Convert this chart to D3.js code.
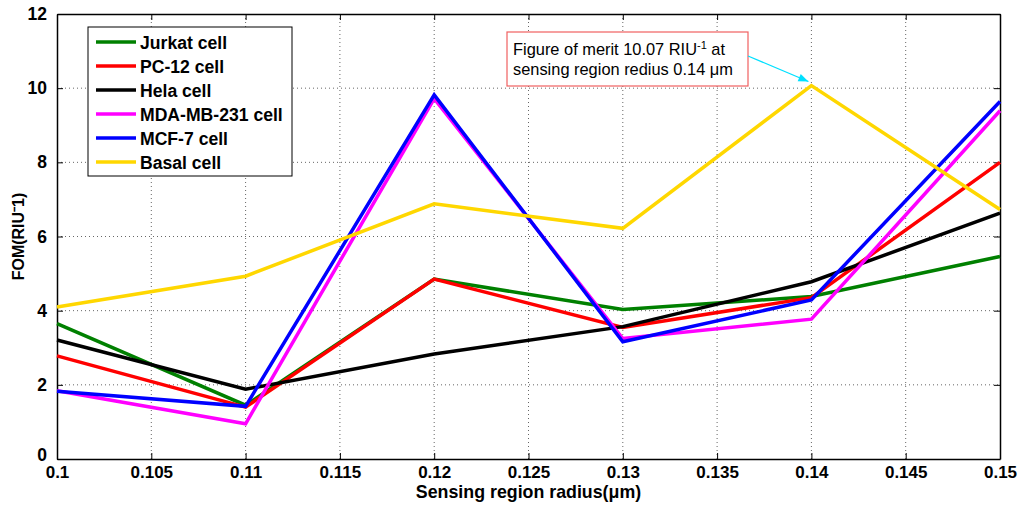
<!DOCTYPE html>
<html>
<head>
<meta charset="utf-8">
<script src="https://cdn.jsdelivr.net/npm/d3@7"></script>
<style>
  body { margin: 0; background: #fff; }
  text { font-family: "Liberation Sans", Arial, sans-serif; }
</style>
</head>
<body>
<svg id="canvas" width="1026" height="505"></svg>
<script>
// Data
var radius = [0.1, 0.11, 0.12, 0.13, 0.14, 0.15];
var jurkat = [3.65, 1.45, 4.85, 4.03, 4.38, 5.46];
var pc12   = [2.78, 1.40, 4.85, 3.55, 4.35, 8.00];
var hela   = [3.21, 1.88, 2.83, 3.57, 4.78, 6.63];
var mda    = [1.84, 0.95, 9.72, 3.25, 3.77, 9.39];
var mcf7   = [1.83, 1.42, 9.82, 3.16, 4.29, 9.64];
var basal  = [4.10, 4.93, 6.88, 6.22, 10.07, 6.73];

var names  = ["Jurkat cell", "PC-12 cell", "Hela cell", "MDA-MB-231 cell", "MCF-7 cell", "Basal cell"];
var colors = ["#008000", "#ff0000", "#000000", "#ff00ff", "#0000ff", "#ffd700"];
var series = [jurkat, pc12, hela, mda, mcf7, basal];

var xTicks = [0.1, 0.105, 0.11, 0.115, 0.12, 0.125, 0.13, 0.135, 0.14, 0.145, 0.15];
var yTicks = [0, 2, 4, 6, 8, 10, 12];

var svg = d3.select("#canvas");

// Margin setup
var margin = {top: 14, right: 26, bottom: 46, left: 57};
var width = +svg.attr("width") - margin.left - margin.right;
var height = +svg.attr("height") - margin.top - margin.bottom;

var g = svg.append("g")
    .attr("transform", "translate(" + margin.left + "," + margin.top + ")");

// Scales
var x = d3.scaleLinear().domain([0.1, 0.15]).range([0, width]);
var y = d3.scaleLinear().domain([0, 12]).range([height, 0]);

// Grid (dotted)
g.append("g").selectAll("line").data(xTicks.slice(1, -1)).enter().append("line")
    .attr("x1", function(d){ return x(d); }).attr("x2", function(d){ return x(d); })
    .attr("y1", 0).attr("y2", height)
    .attr("stroke", "#666").attr("stroke-width", 1).attr("stroke-dasharray", "1,3");
g.append("g").selectAll("line").data(yTicks.slice(1, -1)).enter().append("line")
    .attr("y1", function(d){ return y(d); }).attr("y2", function(d){ return y(d); })
    .attr("x1", 0).attr("x2", width)
    .attr("stroke", "#666").attr("stroke-width", 1).attr("stroke-dasharray", "1,3");

// Axes, ticks inside
var xAxis = g.append("g")
    .attr("transform", "translate(0," + height + ")")
    .call(d3.axisBottom(x).tickValues(xTicks).tickSizeInner(-6).tickSizeOuter(0)
        .tickPadding(10).tickFormat(function(d){ return String(+d.toFixed(3)); }));
xAxis.selectAll("text")
    .attr("font-family", "'Liberation Sans Narrow', 'Liberation Sans', Arial, sans-serif")
    .attr("font-size", 17).attr("font-weight", "bold").attr("fill", "#000")
    .attr("dy", "0.55em");

var yAxis = g.append("g")
    .call(d3.axisLeft(y).tickValues(yTicks).tickSizeInner(-6).tickSizeOuter(0).tickPadding(10));
yAxis.selectAll("text")
    .attr("font-size", 17.5).attr("font-weight", "bold").attr("fill", "#000");
yAxis.selectAll("text").filter(function(d){ return d === 0; }).attr("dy", "0.1em");

g.append("g").call(d3.axisTop(x).tickValues(xTicks).tickSizeInner(-6).tickSizeOuter(0).tickFormat(""));
g.append("g").attr("transform", "translate(" + width + ",0)")
    .call(d3.axisRight(y).tickValues(yTicks).tickSizeInner(-6).tickSizeOuter(0).tickFormat(""));
g.selectAll(".domain").attr("stroke", "#000").attr("stroke-width", 1.5);

// Lines
var line = d3.line()
    .x(function(d, i){ return x(radius[i]); })
    .y(function(d){ return y(d); });
g.selectAll(".series").data(series).enter().append("path")
    .attr("class", "series")
    .attr("d", line)
    .attr("fill", "none")
    .attr("stroke", function(d, i){ return colors[i]; })
    .attr("stroke-width", 3.5)
    .attr("stroke-linejoin", "miter");

// Axis labels
svg.append("text")
    .attr("x", margin.left + width / 2).attr("y", 498)
    .attr("text-anchor", "middle")
    .attr("font-family", "'Liberation Sans Narrow', 'Liberation Sans', Arial, sans-serif")
    .attr("font-size", 17.8).attr("font-weight", "bold")
    .text("Sensing region radius(\u03bcm)");
svg.append("text")
    .attr("transform", "translate(24," + (margin.top + height / 2) + ") rotate(-90)")
    .attr("text-anchor", "middle")
    .attr("font-size", 16).attr("font-weight", "bold")
    .text("FOM(RIU\u207b1)");

// Legend
var legend = svg.append("g");
legend.append("rect")
    .attr("x", 88).attr("y", 27).attr("width", 204).attr("height", 149)
    .attr("fill", "#fff").attr("stroke", "#000").attr("stroke-width", 1);
names.forEach(function(n, i){
    var ly = 42 + i * 24;
    legend.append("line")
        .attr("x1", 96).attr("x2", 136).attr("y1", ly).attr("y2", ly)
        .attr("stroke", colors[i]).attr("stroke-width", 3.5);
    legend.append("text")
        .attr("x", 140).attr("y", ly + 6.5)
        .attr("font-size", 17.6).attr("font-weight", "bold")
        .text(n);
});

// Annotation
var ann = svg.append("g");
ann.append("rect")
    .attr("x", 507).attr("y", 32).attr("width", 241).attr("height", 54)
    .attr("fill", "#fff").attr("stroke", "#f06060").attr("stroke-width", 1.2);
var t1 = ann.append("text").attr("x", 513).attr("y", 55).attr("font-size", 16.4);
t1.append("tspan").text("Figure of merit 10.07 RIU");
t1.append("tspan").attr("dy", -6).attr("font-size", 11).text("-1");
t1.append("tspan").attr("dy", 6).text(" at");
ann.append("text").attr("x", 513).attr("y", 75).attr("font-size", 16.4)
    .text("sensing region redius 0.14 \u03bcm");

var tipX = margin.left + x(0.14) - 3, tipY = margin.top + y(10.07) - 4;
ann.append("line")
    .attr("x1", 748).attr("y1", 56).attr("x2", tipX).attr("y2", tipY)
    .attr("stroke", "#00e0ff").attr("stroke-width", 1.2);
var ang = Math.atan2(tipY - 56, tipX - 748);
var hl = 10, hw = 4;
var bx = tipX - hl * Math.cos(ang), by = tipY - hl * Math.sin(ang);
ann.append("path")
    .attr("d", "M" + tipX + "," + tipY +
        "L" + (bx - hw * Math.sin(ang)) + "," + (by + hw * Math.cos(ang)) +
        "L" + (bx + hw * Math.sin(ang)) + "," + (by - hw * Math.cos(ang)) + "Z")
    .attr("fill", "#00e0ff");
</script>
</body>
</html>
